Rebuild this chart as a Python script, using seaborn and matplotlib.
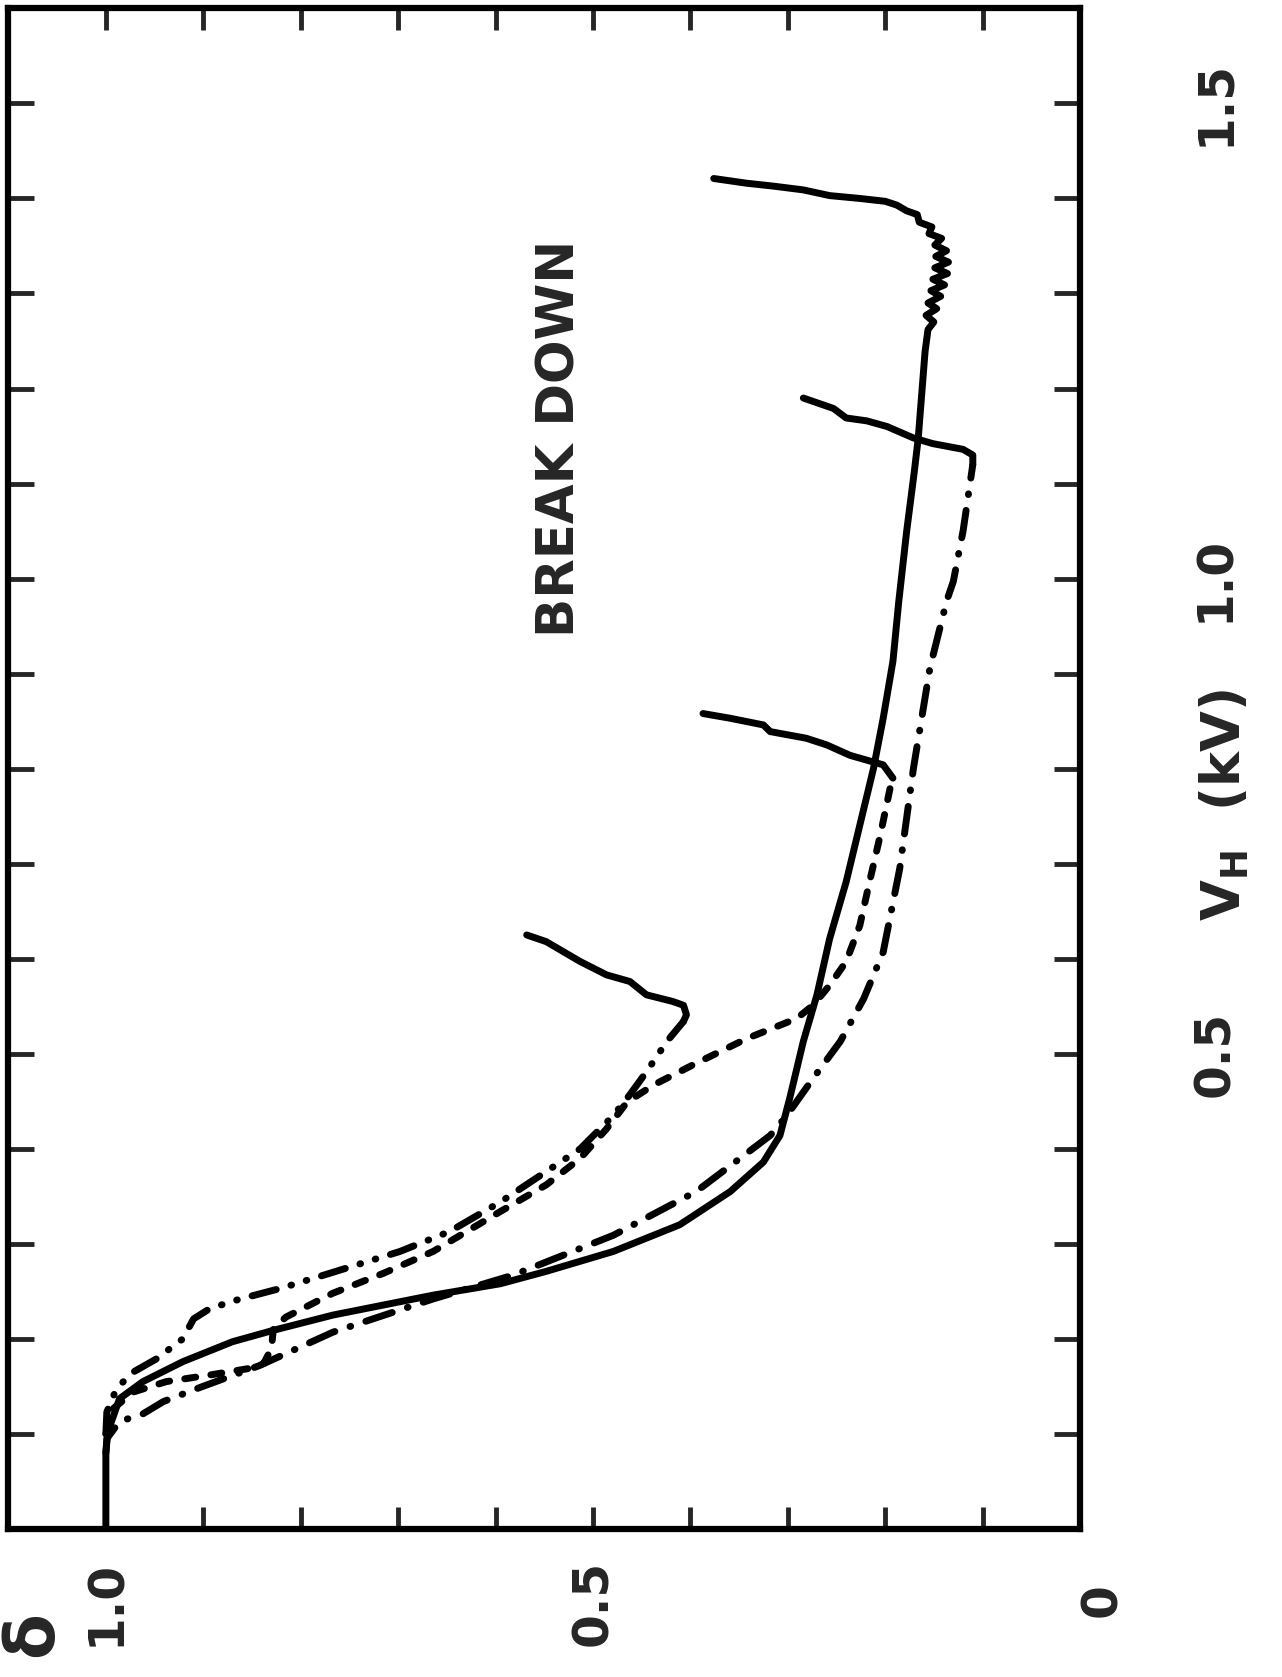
import matplotlib
matplotlib.use("Agg")
import matplotlib.pyplot as plt
import seaborn as sns

sns.set_style("ticks")
plt.rcParams['font.family'] = ['DejaVu Sans']
plt.rcParams['lines.scale_dashes'] = False

# curve A (solid): runs up to breakdown near 1.4 kV, wiggle and tail included
a_delta = [1.0, 1.0, 0.998, 0.986, 0.962, 0.921, 0.870, 0.828, 0.767, 0.664, 0.595, 0.548,
           0.479, 0.411, 0.359, 0.325, 0.308, 0.298, 0.284, 0.270, 0.257, 0.240, 0.212,
           0.202, 0.192, 0.186, 0.178, 0.170, 0.166, 0.159, 0.156,
           0.150, 0.158, 0.147, 0.156, 0.143, 0.153, 0.139, 0.151, 0.136, 0.149, 0.135,
           0.148, 0.137, 0.149, 0.142, 0.155, 0.152, 0.165, 0.167, 0.178, 0.188, 0.200,
           0.226, 0.257, 0.284, 0.315, 0.342, 0.376]
a_vh = [0.0, 0.08, 0.102, 0.137, 0.155, 0.176, 0.197, 0.209, 0.225, 0.246, 0.258, 0.271,
        0.292, 0.32, 0.355, 0.386, 0.414, 0.453, 0.513, 0.562, 0.621, 0.681, 0.80,
        0.853, 0.913, 0.976, 1.049, 1.113, 1.148, 1.239, 1.262,
        1.270, 1.277, 1.284, 1.290, 1.297, 1.303, 1.309, 1.315, 1.321, 1.327, 1.333,
        1.339, 1.345, 1.351, 1.358, 1.363, 1.370, 1.375, 1.383, 1.387, 1.393, 1.397,
        1.400, 1.403, 1.409, 1.413, 1.416, 1.421]

# curve B (long dash - dot) and its breakdown tail
b_delta = [1.0, 0.999, 0.986, 0.962, 0.941, 0.903, 0.842, 0.767, 0.664, 0.582, 0.479,
           0.394, 0.318, 0.301, 0.274, 0.246, 0.222, 0.202, 0.185, 0.171, 0.154, 0.137,
           0.130, 0.120, 0.110]
b_vh = [0.08, 0.095, 0.113, 0.121, 0.134, 0.149, 0.172, 0.207, 0.242, 0.267, 0.309,
        0.355, 0.414, 0.435, 0.474, 0.513, 0.558, 0.607, 0.695, 0.80, 0.906, 0.976,
        0.997, 1.05, 1.12]
b_tail_delta = [0.110, 0.110, 0.120, 0.151, 0.171, 0.198, 0.219, 0.240, 0.253, 0.284]
b_tail_vh = [1.12, 1.13, 1.136, 1.142, 1.148, 1.16, 1.166, 1.169, 1.179, 1.19]

# curve C (short dashes) and tail
c_delta = [1.0, 0.992, 0.972, 0.938, 0.893, 0.852, 0.838, 0.830, 0.828, 0.815, 0.767,
           0.715, 0.664, 0.595, 0.548, 0.513, 0.486, 0.465, 0.438, 0.394, 0.342, 0.291,
           0.274, 0.257, 0.240, 0.226, 0.216, 0.205, 0.195, 0.192]
c_vh = [0.10, 0.127, 0.144, 0.155, 0.162, 0.169, 0.174, 0.19, 0.211, 0.223, 0.248,
        0.269, 0.292, 0.334, 0.362, 0.39, 0.421, 0.449, 0.467, 0.49, 0.516, 0.537,
        0.551, 0.572, 0.597, 0.635, 0.681, 0.73, 0.779, 0.79]
c_tail_delta = [0.192, 0.202, 0.236, 0.26, 0.281, 0.318, 0.325, 0.359, 0.387]
c_tail_vh = [0.79, 0.804, 0.814, 0.825, 0.832, 0.839, 0.846, 0.853, 0.858]

# curve D (long dash - dot - dot) and tail
d_delta = [1.0, 0.999, 0.989, 0.972, 0.948, 0.921, 0.910, 0.893, 0.862, 0.821, 0.767,
           0.698, 0.647, 0.595, 0.548, 0.513, 0.479, 0.462, 0.445, 0.424, 0.407]
d_vh = [0.10, 0.123, 0.148, 0.165, 0.179, 0.20, 0.221, 0.232, 0.242, 0.253, 0.27,
        0.292, 0.313, 0.344, 0.376, 0.40, 0.435, 0.457, 0.481, 0.513, 0.534]
d_tail_delta = [0.407, 0.404, 0.407, 0.418, 0.445, 0.462, 0.486, 0.513, 0.548, 0.568]
d_tail_vh = [0.534, 0.541, 0.551, 0.555, 0.562, 0.576, 0.583, 0.597, 0.618, 0.625]

delta_ticks = [0.0, 0.1, 0.2, 0.3, 0.4, 0.5, 0.6, 0.7, 0.8, 0.9, 1.0]
delta_labels = ["", "", "", "", "", "0.5", "", "", "", "", "1.0"]
vh_ticks = [0.1, 0.2, 0.3, 0.4, 0.5, 0.6, 0.7, 0.8, 0.9, 1.0, 1.1, 1.2, 1.3, 1.4, 1.5]
vh_labels = ["", "", "", "", "0.5", "", "", "", "", "1.0", "", "", "", "", "1.5"]

fig = plt.figure(figsize=(12.82, 16.77), dpi=100)
ax = fig.add_axes([0.0066, 0.0883, 0.8358, 0.9067])

LW = 5


def draw(d, v, ls):
    sns.lineplot(x=d, y=v, sort=False, estimator=None, ax=ax, color="black",
                 lw=LW, linestyle=ls, solid_capstyle="round", dash_capstyle="round",
                 solid_joinstyle="round")


draw(a_delta, a_vh, "-")
draw(b_delta, b_vh, (0, (20, 11.5, 0.5, 11.5)))
draw(b_tail_delta, b_tail_vh, "-")
draw(c_delta, c_vh, (0, (8, 11)))
draw(c_tail_delta, c_tail_vh, "-")
draw(d_delta, d_vh, (0, (18, 11, 0.5, 11, 0.5, 11)))
draw(d_tail_delta, d_tail_vh, "-")

ax.set_xlim(1.1, 0)
ax.set_ylim(0, 1.6)
ax.set_xticks(delta_ticks)
ax.set_xticklabels(delta_labels)
ax.set_yticks(vh_ticks)
ax.set_yticklabels(vh_labels)
ax.set_xlabel("")
ax.set_ylabel("")

ax.tick_params(axis="x", direction="in", length=16, width=3.5, top=True, bottom=True,
               labelbottom=True, labeltop=False, labelrotation=90, labelsize=35, pad=22)
ax.tick_params(axis="y", direction="in", length=19, width=3.5, left=True, right=True,
               labelleft=False, labelright=True, labelrotation=90, labelsize=35, pad=80)
for lab in ax.get_yticklabels() + ax.get_xticklabels():
    lab.set_fontweight("bold")
for lab in ax.get_yticklabels():
    lab.set_verticalalignment("center")

for side in ["top", "bottom", "left", "right"]:
    ax.spines[side].set_linewidth(4.5)
    ax.spines[side].set_color("black")

ax.text(0.533, 1.148, "BREAK DOWN", rotation=90, ha="center", va="center",
        fontsize=37, fontweight="bold")
fig.text(1224 / 1282, 1 - 805 / 1677, r"V$_\mathbf{H}$  (kV)", rotation=90,
         ha="center", va="center", fontsize=38, fontweight="bold")
fig.text(1102 / 1282, 1 - 1600 / 1677, "0", rotation=90, ha="center", va="center",
         fontsize=35, fontweight="bold")
fig.text(33 / 1282, 1 - 1634 / 1677, "δ", rotation=90, ha="center", va="center",
         fontsize=48, fontweight="bold")

fig.savefig("out.png", dpi=100, facecolor="white")
